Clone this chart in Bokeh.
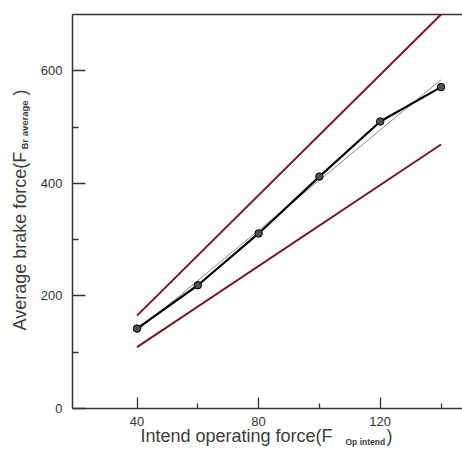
import numpy as np
from bokeh.plotting import figure
from bokeh.models import FixedTicker, Label, Range1d
from bokeh.embed import file_html
from bokeh.resources import INLINE

# ---- data ----
op_force = [40, 60, 80, 100, 120, 140]
brake_avg = [142, 219, 311, 412, 510, 571]
upper_x = [40, 140]
upper_y = [165, 700]
lower_x = [40, 140]
lower_y = [109, 469]
fit_x = [40, 140]
fit_y = [138, 584]
x_major = [40, 80, 120]
x_minor = [60, 100, 140]
y_major = [0, 200, 400, 600]
y_minor = [100, 300, 500]
y_top = 700

# ---- layout: the frame fills the canvas, axes are pinned inside it ----
W, H = 462, 450
AX_LEFT, AX_TOP, AX_BOTTOM = 72, 14, 408     # canvas px of the axes box
XS = 3.04                                     # px per x unit
YS = (AX_BOTTOM - AX_TOP) / y_top             # px per y unit
X0 = 40 - (136.5 - AX_LEFT) / XS              # x value at the left axis
X1 = X0 + (W - AX_LEFT) / XS                  # x value at the right edge

p = figure(width=W, height=H, output_backend="svg", toolbar_location=None,
           x_range=Range1d(X0 - AX_LEFT / XS, X1),
           y_range=Range1d(-(H - AX_BOTTOM) / YS, y_top + AX_TOP / YS),
           min_border_left=0, min_border_right=0, min_border_top=0,
           min_border_bottom=0)
p.outline_line_color = None
p.grid.visible = False
p.background_fill_color = "white"
p.border_fill_color = "white"

axis_col = "#333333"
xa, ya = p.xaxis[0], p.yaxis[0]
xa.fixed_location = 0
ya.fixed_location = X0
xa.bounds = (X0, X1)
ya.bounds = (0, y_top)
for ax in (xa, ya):
    ax.axis_line_color = axis_col
    ax.axis_line_width = 1.5
    ax.major_tick_line_color = axis_col
    ax.minor_tick_line_color = axis_col
    ax.major_tick_line_width = 1.3
    ax.minor_tick_line_width = 1.3
    ax.major_tick_out = 0
    ax.minor_tick_out = 0
    ax.major_label_text_font = "Liberation Sans"
    ax.major_label_text_font_size = "13px"
    ax.major_label_text_color = "#333333"

xa.ticker = FixedTicker(ticks=x_major, minor_ticks=x_minor)
ya.ticker = FixedTicker(ticks=y_major, minor_ticks=y_minor)
xa.major_tick_in = 11
xa.minor_tick_in = 5
ya.major_tick_in = 13
ya.minor_tick_in = 6
xa.major_label_standoff = 8
ya.major_label_standoff = 10

# top frame line
p.line([X0, X1], [y_top, y_top], line_color=axis_col, line_width=1.5)

red = "#7d1526"
p.line(upper_x, upper_y, line_color=red, line_width=2)
p.line(lower_x, lower_y, line_color=red, line_width=2)
p.line(fit_x, fit_y, line_color="#8c8c8c", line_width=1)
p.line(op_force, brake_avg, line_color="black", line_width=2.2)
p.scatter(op_force, brake_avg, size=7.5, fill_color="#505050", line_color="black", line_width=1)

lab_col = "#3d3d3d"

def add_text(x, y, text, size, bold=False, angle=0.0):
    p.add_layout(Label(x=x, y=y, x_units="canvas", y_units="canvas", text=text,
                       angle=angle, text_font="Liberation Sans", text_font_size=size,
                       text_font_style="bold" if bold else "normal",
                       text_color=lab_col, text_baseline="alphabetic", text_align="left"))

# x-axis label
add_text(140, 435, "Intend operating force(F", "18px")
add_text(345, 441, "Op intend", "8.5px", bold=True)
add_text(386, 435, ")", "18px")
# y-axis label (rotated)
add_text(19, 330, "Average brake force(F", "18px", angle=np.pi / 2)
add_text(24, 149, "Br average", "9.5px", bold=True, angle=np.pi / 2)
add_text(19, 95, ")", "18px", angle=np.pi / 2)

open("out.html", "w").write(file_html(p, INLINE))
